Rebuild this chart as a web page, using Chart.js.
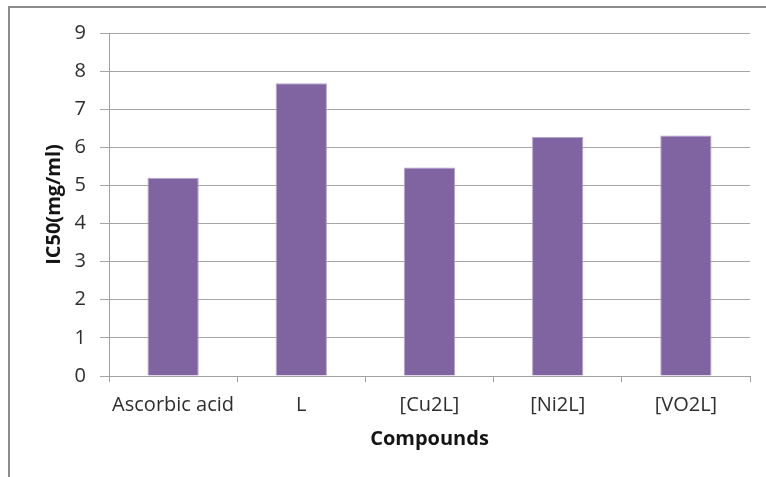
<!DOCTYPE html>
<html>
<head>
<meta charset="utf-8">
<script src="https://cdn.jsdelivr.net/npm/chart.js@4/dist/chart.umd.min.js"></script>
<style>
  html, body { margin: 0; padding: 0; background: #ffffff; }
  #wrap { width: 766px; height: 477px; position: relative; }
</style>
</head>
<body>
<div id="wrap"><canvas id="c" width="766" height="477"></canvas></div>
<script>
// IC50 values per compound
const categories = ['Ascorbic acid', 'L', '[Cu2L]', '[Ni2L]', '[VO2L]'];
const ic50Values = [5.2, 7.68, 5.47, 6.27, 6.31];
const yTicks = [0, 1, 2, 3, 4, 5, 6, 7, 8, 9];

const FONT = '"Open Sans", "Liberation Sans", sans-serif';

// outer chart frame (top and left edges)
const framePlugin = {
  id: 'frame',
  beforeDraw(chart) {
    const ctx = chart.ctx;
    ctx.save();
    ctx.strokeStyle = '#8c8c8c';
    ctx.lineWidth = 2;
    ctx.beginPath();
    ctx.moveTo(9, 477);
    ctx.lineTo(9, 7);
    ctx.lineTo(766, 7);
    ctx.stroke();
    ctx.restore();
  }
};

new Chart(document.getElementById('c'), {
  type: 'bar',
  data: {
    labels: categories,
    datasets: [{
      label: 'IC50',
      data: ic50Values,
      backgroundColor: '#8064a2',
      borderColor: '#b3a2cc',
      borderWidth: 1,
      barPercentage: 0.4,
      categoryPercentage: 1.0
    }]
  },
  options: {
    responsive: false,
    animation: false,
    devicePixelRatio: 1,
    layout: { padding: { top: 33, right: 16, bottom: 0, left: 0 } },
    plugins: {
      legend: { display: false },
      tooltip: { enabled: false }
    },
    scales: {
      x: {
        grid: {
          offset: true,
          drawOnChartArea: false,
          drawTicks: true,
          tickLength: 6,
          color: '#a0a0a0',
          lineWidth: 1
        },
        border: { color: '#a0a0a0', width: 1 },
        ticks: {
          color: '#2e2e2e',
          font: { family: FONT, size: 20 },
          padding: 11,
          maxRotation: 0
        },
        title: {
          display: true,
          text: 'Compounds',
          color: '#141414',
          font: { family: FONT, size: 20, weight: 'bold' },
          padding: { top: 0, bottom: 26 }
        },
        afterFit(scale) { scale.height = 101; }
      },
      y: {
        min: 0,
        max: 9,
        afterBuildTicks(scale) { scale.ticks = yTicks.map(v => ({ value: v })); },
        grid: {
          color: '#a6a6a6',
          lineWidth: 1,
          tickLength: 9
        },
        border: { color: '#a0a0a0', width: 1 },
        ticks: {
          color: '#2e2e2e',
          font: { family: FONT, size: 20 },
          padding: 14
        },
        title: {
          display: true,
          text: 'IC50(mg/ml)',
          color: '#141414',
          font: { family: FONT, size: 20, weight: 'bold' },
          padding: { top: 42, bottom: 0 }
        },
        afterFit(scale) { scale.width = 109; }
      }
    }
  },
  plugins: [framePlugin]
});
</script>
</body>
</html>
